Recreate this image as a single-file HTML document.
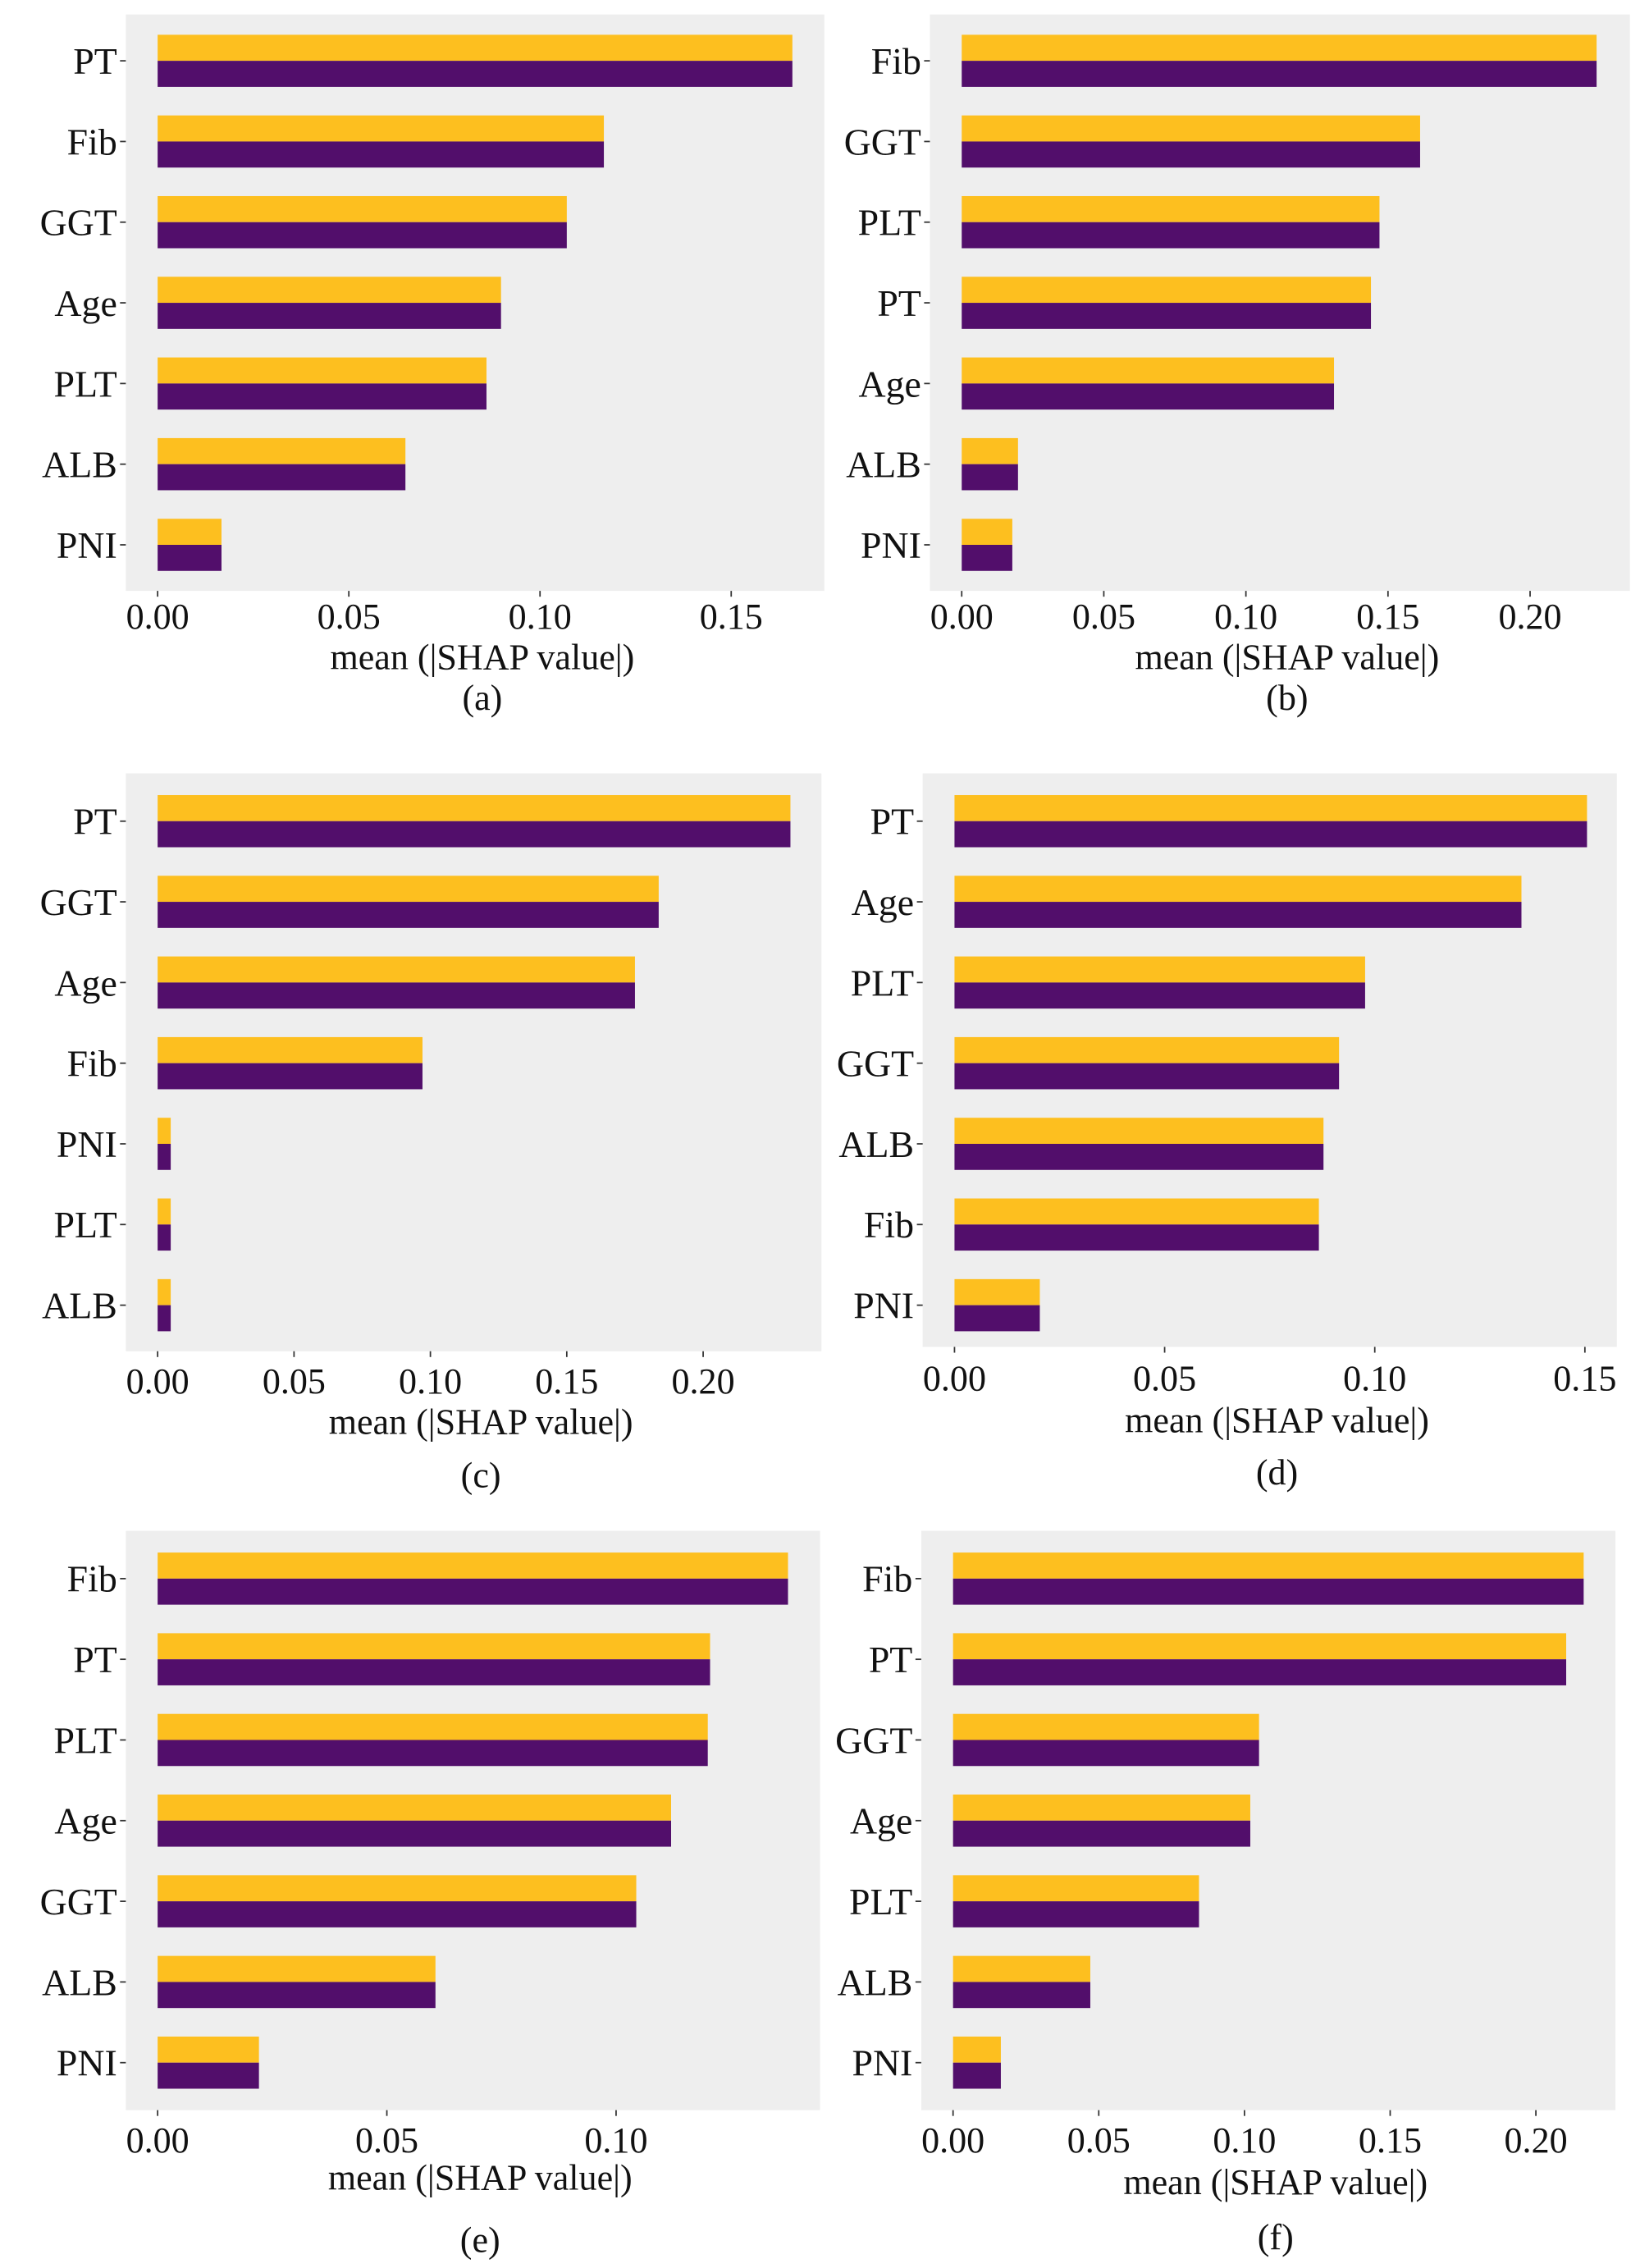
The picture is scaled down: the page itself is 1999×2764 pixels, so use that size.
<!DOCTYPE html>
<html><head><meta charset="utf-8">
<style>
html,body{margin:0;padding:0;background:#fff;}
svg{display:block;}
text{font-family:"Liberation Serif",serif;fill:#111;}
</style></head>
<body>
<svg id="fig" width="1999" height="2764" viewBox="0 0 1134 1566" preserveAspectRatio="none" xmlns="http://www.w3.org/2000/svg"></svg>
<script>
// Data per panel
const labelsA = ["PT","Fib","GGT","Age","PLT","ALB","PNI"];
const valuesA = [0.166,0.1167,0.107,0.0898,0.086,0.0648,0.0167];
const labelsB = ["Fib","GGT","PLT","PT","Age","ALB","PNI"];
const valuesB = [0.2234,0.1613,0.147,0.144,0.131,0.0198,0.0178];
const labelsC = ["PT","GGT","Age","Fib","PNI","PLT","ALB"];
const valuesC = [0.232,0.1837,0.175,0.0971,0.0048,0.0048,0.0048];
const labelsD = ["PT","Age","PLT","GGT","ALB","Fib","PNI"];
const valuesD = [0.1505,0.1349,0.0977,0.0915,0.0878,0.0867,0.0203];
const labelsE = ["Fib","PT","PLT","Age","GGT","ALB","PNI"];
const valuesE = [0.1375,0.1205,0.120,0.112,0.1044,0.0606,0.0221];
const labelsF = ["Fib","PT","GGT","Age","PLT","ALB","PNI"];
const valuesF = [0.2164,0.2104,0.105,0.102,0.0844,0.0471,0.0164];
const ticksA = ["0.00","0.05","0.10","0.15"];
const ticksB = ["0.00","0.05","0.10","0.15","0.20"];
const ticksC = ["0.00","0.05","0.10","0.15","0.20"];
const ticksD = ["0.00","0.05","0.10","0.15"];
const ticksE = ["0.00","0.05","0.10"];
const ticksF = ["0.00","0.05","0.10","0.15","0.20"];
const captions = ["(a)","(b)","(c)","(d)","(e)","(f)"];

const NS="http://www.w3.org/2000/svg";
const svg=document.getElementById('fig');
function mk(tag,attrs,parent){const e=document.createElementNS(NS,tag);for(const k in attrs)e.setAttribute(k,attrs[k]);(parent||svg).appendChild(e);return e;}

const layouts=[
 {labels:labelsA,values:valuesA,ticks:ticksA,bx0:87,bx1:570,by0:10,by1:408,x0:109,per:132.2,row0:42,tickY:425,xlY:453,capY:481},
 {labels:labelsB,values:valuesB,ticks:ticksB,bx0:643,bx1:1127,by0:10,by1:408,x0:665,per:98.25,row0:42,tickY:425,xlY:453,capY:481},
 {labels:labelsC,values:valuesC,ticks:ticksC,bx0:87,bx1:568,by0:534,by1:933,x0:109,per:94.3,row0:567,tickY:953,xlY:981,capY:1018},
 {labels:labelsD,values:valuesD,ticks:ticksD,bx0:638,bx1:1118,by0:534,by1:930,x0:660,per:145.3,row0:567,tickY:951,xlY:980,capY:1016},
 {labels:labelsE,values:valuesE,ticks:ticksE,bx0:87,bx1:567,by0:1057,by1:1457,x0:109,per:158.5,row0:1090,tickY:1477,xlY:1503,capY:1546},
 {labels:labelsF,values:valuesF,ticks:ticksF,bx0:637,bx1:1117,by0:1057,by1:1457,x0:659,per:100.75,row0:1090,tickY:1477,xlY:1506,capY:1544}
];
const rowStep=55.7;

layouts.forEach((L,pi)=>{
  const g=mk('g',{});
  
  
  const xs=v=>L.x0+v/0.05*L.per;
  const bg=mk('rect',{x:L.bx0,y:L.by0,width:L.bx1-L.bx0,height:L.by1-L.by0,fill:'#eeeeee'},g);
  
  
  L.labels.forEach((lab,i)=>{
    const cy=L.row0+i*rowStep;
    const v=L.values[i];
    const y1=mk('rect',{x:L.x0,y:cy-18,width:xs(v)-L.x0,height:18,fill:'#fdbf1f'},g);
    
    
    const p1=mk('rect',{x:L.x0,y:cy,width:xs(v)-L.x0,height:18,fill:'#520e6b'},g);
    
    
    mk('line',{x1:L.bx0-4,x2:L.bx0,y1:cy,y2:cy,stroke:'#333','stroke-width':1},g);
    const t=mk('text',{x:L.bx0-6,y:cy+9,'text-anchor':'end','font-size':26},g);
    t.textContent=lab;
    
    
  });
  L.ticks.forEach((tk,i)=>{
    const x=xs(parseFloat(tk));
    mk('line',{x1:x,x2:x,y1:L.by1,y2:L.by1+4,stroke:'#333','stroke-width':1},g);
    const t=mk('text',{x:x,y:L.tickY+9,'text-anchor':'middle','font-size':25},g);
    t.textContent=tk;
    
    
  });
  const cx=(L.bx0+L.bx1)/2+5;
  const xl=mk('text',{x:cx,y:L.xlY+9,'text-anchor':'middle','font-size':25},g);
  xl.textContent='mean (|SHAP value|)';
  
  
  const cp=mk('text',{x:cx,y:L.capY+9,'text-anchor':'middle','font-size':25},g);
  cp.textContent=captions[pi];
  
  
});
</script>
</body></html>
